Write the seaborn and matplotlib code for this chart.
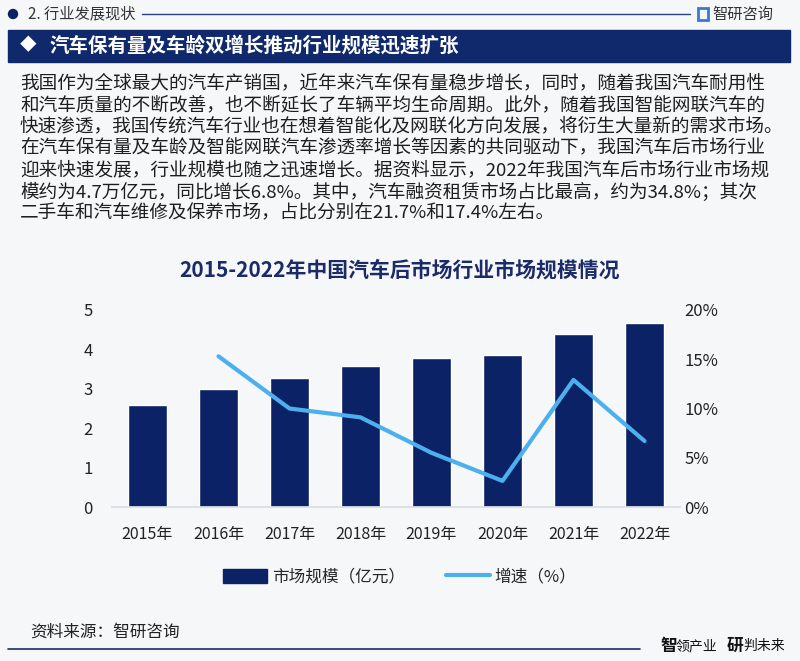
import numpy as np
import pandas as pd
import seaborn as sns
from matplotlib import pyplot as plt
from matplotlib.patches import Rectangle, Patch, Ellipse
from matplotlib.lines import Line2D

years = ['2015年', '2016年', '2017年', '2018年', '2019年', '2020年', '2021年', '2022年']
market_size = [2.58, 2.99, 3.28, 3.57, 3.77, 3.87, 4.39, 4.67]
growth_years = ['2016年', '2017年', '2018年', '2019年', '2020年', '2021年', '2022年']
growth_rate = [15.3, 10.0, 9.1, 5.5, 2.65, 12.9, 6.7]

left_ticks = [0, 1, 2, 3, 4, 5]
right_ticks = [0, 5, 10, 15, 20]

header = '2. 行业发展现状'
banner = '汽车保有量及车龄双增长推动行业规模迅速扩张'
paragraph = [
    '我国作为全球最大的汽车产销国，近年来汽车保有量稳步增长，同时，随着我国汽车耐用性',
    '和汽车质量的不断改善，也不断延长了车辆平均生命周期。此外，随着我国智能网联汽车的',
    '快速渗透，我国传统汽车行业也在想着智能化及网联化方向发展，将衍生大量新的需求市场。',
    '在汽车保有量及车龄及智能网联汽车渗透率增长等因素的共同驱动下，我国汽车后市场行业',
    '迎来快速发展，行业规模也随之迅速增长。据资料显示，2022年我国汽车后市场行业市场规',
    '模约为4.7万亿元，同比增长6.8%。其中，汽车融资租赁市场占比最高，约为34.8%；其次',
    '二手车和汽车维修及保养市场，占比分别在21.7%和17.4%左右。',
]
chart_title = '2015-2022年中国汽车后市场行业市场规模情况'
bar_label = '市场规模（亿元）'
line_label = '增速（%）'
source = '资料来源：智研咨询'

NAVY = '#0c2266'
LIGHT = '#4db0ee'
TEXT = '#1e1e1e'

sns.set_theme(style='white')
plt.rcParams['font.family'] = ['Noto Sans CJK SC', 'DejaVu Sans']

W, H = 800, 661
fig = plt.figure(figsize=(W / 100, H / 100), dpi=100, facecolor='#f6f7f9')


def fx(px):
    return px / W


def fy(py):
    return 1 - py / H


# header row
fig.patches.append(Ellipse((fx(13), fy(14)), fx(9), 9 / H, transform=fig.transFigure,
                           color=NAVY, zorder=2))
fig.text(fx(28), fy(14), header, fontsize=11, color='#333333', va='center')
fig.add_artist(Line2D([fx(142), fx(690)], [fy(14), fy(14)], color='#2b3f78', lw=1))
fig.patches.append(Rectangle((fx(698), fy(20)), fx(10), 12 / H, transform=fig.transFigure,
                             facecolor='none', edgecolor='#3a78d8', lw=2))
fig.text(fx(712), fy(14), '智研咨询', fontsize=11, color='#333333', va='center')

# banner
fig.patches.append(Rectangle((fx(8), fy(62)), fx(782), 32 / H, transform=fig.transFigure,
                             color='#0f296c', zorder=2))
fig.text(fx(20), fy(46), '◆', fontsize=12, color='white', va='center', zorder=3)
fig.text(fx(50), fy(46), banner, fontsize=14, color='white', weight='bold', va='center', zorder=3)

# paragraph
for i, line in enumerate(paragraph):
    fig.text(fx(20), fy(83 + i * 21.8), line, fontsize=13.4, color=TEXT, va='center')

fig.text(0.5, fy(270), chart_title, fontsize=15, color='#1b2b6a', weight='bold',
         ha='center', va='center')

# chart
ax = fig.add_axes([fx(112), fy(507), fx(568), (507 - 310) / H])
ax.set_facecolor('none')
df = pd.DataFrame({'year': years, 'size': market_size})
sns.barplot(data=df, x='year', y='size', color=NAVY, width=0.55, saturation=1, ax=ax)
ax.set_ylim(0, 5)
ax.set_yticks(left_ticks)
ax.set_xlim(-0.5, len(years) - 0.5)
ax.set_xlabel('')
ax.set_ylabel('')
for s in ['top', 'right', 'left']:
    ax.spines[s].set_visible(False)
ax.spines['bottom'].set_color('#d9dde5')
ax.tick_params(axis='x', labelsize=11.5, colors='#222222', pad=14, length=0)
ax.tick_params(axis='y', labelsize=12, colors='#222222', pad=14, length=0)

ax2 = ax.twinx()
gx = [years.index(y) for y in growth_years]
sns.lineplot(x=gx, y=growth_rate, color=LIGHT, lw=3, ax=ax2)
ax2.set_ylim(0, 20)
ax2.set_yticks(right_ticks)
ax2.set_yticklabels([f'{t}%' for t in right_ticks])
ax2.tick_params(axis='y', labelsize=12, colors='#222222', pad=3, length=0)
for s in ['top', 'right', 'left', 'bottom']:
    ax2.spines[s].set_visible(False)

handles = [Patch(facecolor=NAVY, edgecolor=NAVY),
           Line2D([0], [0], color=LIGHT, lw=3)]
fig.legend(handles, [bar_label, line_label], loc='center', bbox_to_anchor=(0.5, fy(577)),
           ncol=2, frameon=False, fontsize=12, handlelength=2.6, handleheight=0.9,
           columnspacing=2.5, handletextpad=0.3)

# footer
fig.text(fx(30), fy(632), source, fontsize=12, color='#222222', va='center')
fig.add_artist(Line2D([fx(8), fx(640)], [fy(649), fy(649)], color='#1b2b6a', lw=1.2))
fig.text(fx(660), fy(646), '智', fontsize=12, color='#111111', weight='bold', va='center')
fig.text(fx(676), fy(646), '领产业', fontsize=10, color='#111111', va='center')
fig.text(fx(727), fy(646), '研', fontsize=12, color='#111111', weight='bold', va='center')
fig.text(fx(743), fy(646), '判未来', fontsize=10, color='#111111', va='center')

fig.savefig('out.png', dpi=100, facecolor=fig.get_facecolor())
